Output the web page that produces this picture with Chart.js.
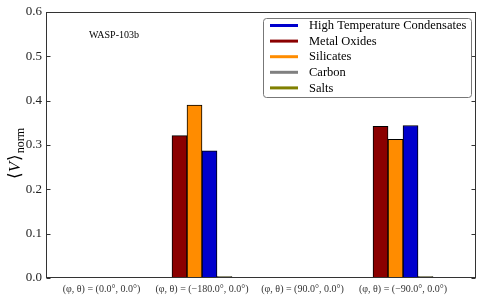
<!DOCTYPE html>
<html>
<head>
<meta charset="utf-8">
<script src="https://cdn.jsdelivr.net/npm/chart.js@4.4.0/dist/chart.umd.min.js"></script>
<style>
  html, body { margin: 0; padding: 0; background: #fff; }
  canvas { display: block; }
</style>
</head>
<body>
<canvas id="chart" width="482" height="300"></canvas>
<script>
// normalized cloud volume per viewing angle, WASP-103b
const planetName = 'WASP-103b';
const angleLabels = [
  '(φ, θ) = (0.0°, 0.0°)',
  '(φ, θ) = (−180.0°, 0.0°)',
  '(φ, θ) = (90.0°, 0.0°)',
  '(φ, θ) = (−90.0°, 0.0°)'
];
const metalOxides = [null, 0.321, null, 0.342];
const silicates = [null, 0.390, null, 0.313];
const highTempCond = [null, 0.287, null, 0.344];
const carbon = [null, 0, null, 0];
const salts = [null, 0, null, 0];
const yTicks = [0, 0.1, 0.2, 0.3, 0.4, 0.5, 0.6];

// bar order is MO, Si, HTC, C+Salts; legend order differs
const series = [
  { label: 'Metal Oxides', data: metalOxides, color: '#8b0000', stack: 'mo' },
  { label: 'Silicates', data: silicates, color: '#ff8c00', stack: 'si' },
  { label: 'High Temperature Condensates', data: highTempCond, color: '#0000cd', stack: 'htc' },
  { label: 'Carbon', data: carbon, color: '#808080', stack: 'cs' },
  { label: 'Salts', data: salts, color: '#808000', stack: 'cs' }
];
const legendOrder = ['High Temperature Condensates', 'Metal Oxides', 'Silicates', 'Carbon', 'Salts'];

const serif = '"Liberation Serif", "DejaVu Serif", serif';

const datasets = series.map(s => ({
  label: s.label,
  data: s.data.map((v, i) => ({ x: i, y: v })),
  backgroundColor: s.color,
  borderColor: '#000',
  borderWidth: 1,
  borderSkipped: false,
  barThickness: 15,
  minBarLength: 1,
  stack: s.stack
}));

const decor = {
  id: 'decor',
  afterDraw(chart) {
    const ctx = chart.ctx;
    const a = chart.chartArea;
    const yScale = chart.scales.y;
    const L = Math.round(a.left) + 0.5, R = Math.round(a.right) - 0.5;
    const T = Math.round(a.top) + 0.5, B = Math.round(a.bottom) - 0.5;
    ctx.save();

    // frame + inward ticks
    ctx.strokeStyle = '#333';
    ctx.lineWidth = 1;
    ctx.strokeRect(L, T, R - L, B - T);
    ctx.beginPath();
    yScale.ticks.forEach(t => {
      const y = Math.round(yScale.getPixelForValue(t.value)) + 0.5;
      ctx.moveTo(L, y); ctx.lineTo(L + 4, y);
      ctx.moveTo(R, y); ctx.lineTo(R - 4, y);
    });
    ctx.stroke();

    // planet name
    ctx.fillStyle = '#000';
    ctx.font = '10px ' + serif;
    ctx.textBaseline = 'middle';
    ctx.fillText(planetName, a.left + 43, a.top + 23);

    // legend
    const bx = a.right - 213, by = a.top + 6, bw = 208, bh = 79;
    ctx.beginPath();
    ctx.roundRect(bx + 0.5, by + 0.5, bw, bh, 3);
    ctx.fillStyle = '#fff';
    ctx.fill();
    ctx.strokeStyle = '#777';
    ctx.stroke();
    ctx.font = '12.5px ' + serif;
    legendOrder.forEach((name, i) => {
      const s = series.find(d => d.label === name);
      const y = by + 7.5 + i * 15.6;
      ctx.strokeStyle = s.color;
      ctx.lineWidth = 3;
      ctx.beginPath();
      ctx.moveTo(bx + 7, y); ctx.lineTo(bx + 35, y);
      ctx.stroke();
      ctx.fillStyle = '#000';
      ctx.fillText(name, bx + 46, y + 0.5);
    });

    // y axis title <V>_norm
    ctx.translate(20, 179);
    ctx.rotate(-Math.PI / 2);
    ctx.textBaseline = 'alphabetic';
    ctx.fillStyle = '#000';
    let x = 0;
    ctx.font = '17px ' + serif;
    ctx.fillText('⟨', x, 0); x += ctx.measureText('⟨').width;
    ctx.font = 'italic 17px ' + serif;
    ctx.fillText('V', x, 0); x += ctx.measureText('V').width + 1;
    ctx.font = '17px ' + serif;
    ctx.fillText('⟩', x, 0); x += ctx.measureText('⟩').width;
    ctx.font = '12px ' + serif;
    ctx.fillText('norm', x + 1, 4);
    ctx.restore();
  }
};

new Chart(document.getElementById('chart'), {
  type: 'bar',
  data: { datasets },
  options: {
    responsive: false,
    animation: false,
    layout: { padding: { top: 12, right: 6, left: 0, bottom: 0 } },
    plugins: { legend: { display: false }, tooltip: { enabled: false } },
    scales: {
      x: {
        type: 'linear',
        offset: false,
        min: -0.552,
        max: 3.726,
        grid: { display: false, drawTicks: false },
        border: { display: false },
        afterBuildTicks: s => { s.ticks = angleLabels.map((_, i) => ({ value: i })); },
        afterFit: s => { s.height = 22; },
        ticks: {
          autoSkip: false,
          maxRotation: 0,
          padding: 5,
          color: '#333',
          font: { family: serif, size: 10 },
          callback: v => angleLabels[v]
        }
      },
      y: {
        min: 0,
        max: 0.6,
        grid: { display: false, drawTicks: false },
        border: { display: false },
        afterBuildTicks: s => { s.ticks = yTicks.map(v => ({ value: v })); },
        afterFit: s => { s.width = 46; },
        ticks: {
          padding: 4,
          color: '#222',
          font: { family: serif, size: 13 },
          callback: v => v.toFixed(1)
        }
      }
    }
  },
  plugins: [decor]
});
</script>
</body>
</html>
